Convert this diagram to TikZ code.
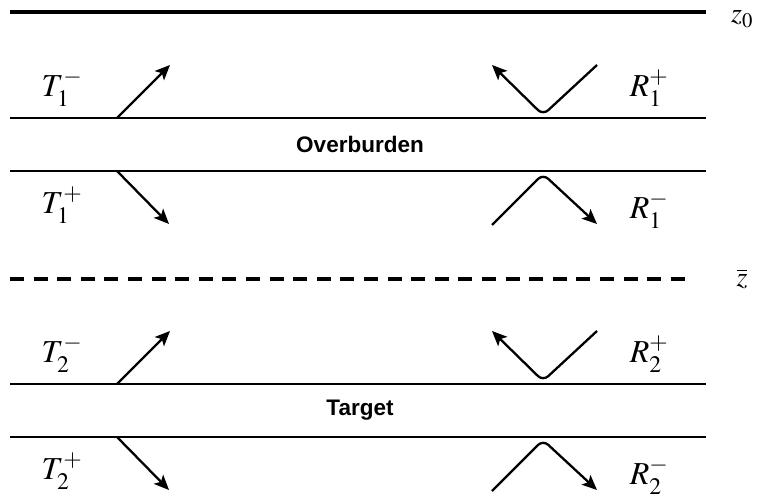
\documentclass[tikz,border=0pt]{standalone}
\usepackage{mathptmx}
\usepackage{fontspec}
\newfontfamily\labelsans{Liberation Sans}
\usetikzlibrary{arrows.meta}
\tikzset{
  layer/.style={line width=1.4pt},
  ray/.style={line width=2.3pt, -{Stealth[length=15pt,width=13pt,inset=3.5pt]}, rounded corners=7pt},
  mlabel/.style={font=\fontsize{32}{34}\selectfont, inner sep=0pt},
  zlabel/.style={font=\fontsize{28}{30}\selectfont, inner sep=0pt},
  title/.style={font=\labelsans\bfseries\fontsize{22.5}{26}\selectfont, inner sep=0pt}
}
\begin{document}
\begin{tikzpicture}[x=1pt,y=-1pt]
\useasboundingbox (0,0) rectangle (760,501);
% surface and interfaces
\draw[line width=4pt] (10,12) -- (706,12);
\node[zlabel] (z0) at (742,19) {$z_0$};
\draw[layer] (10,118) -- (706,118);
\draw[layer] (10,171) -- (706,171);
\draw[line width=4pt, dash pattern=on 14pt off 9.6pt] (10,279) -- (694,279);
\node[zlabel] (zbar) at (742,279) {$\overline{z}$};
\draw[layer] (10,384) -- (706,384);
\draw[layer] (10,437) -- (706,437);
% layer titles
\node[title] (ob) at (360,144) {Overburden};
\node[title] (tg) at (360,410) {Target};
% overburden rays
\node[mlabel] (t1m) at (62,88) {$T_1^-$};
\draw[ray] (117,118) -- (170,65);
\node[mlabel] (r1p) at (649,88) {$R_1^+$};
\draw[ray] (597,65) -- (543,115) -- (492,65);
\node[mlabel] (t1p) at (62,205) {$T_1^+$};
\draw[ray] (117,171) -- (169,224);
\node[mlabel] (r1m) at (649,210) {$R_1^-$};
\draw[ray] (492,225) -- (543,174) -- (597,224);
% target rays
\node[mlabel] (t2m) at (62,354) {$T_2^-$};
\draw[ray] (117,384) -- (170,331);
\node[mlabel] (r2p) at (649,354) {$R_2^+$};
\draw[ray] (597,331) -- (543,381) -- (492,331);
\node[mlabel] (t2p) at (62,471) {$T_2^+$};
\draw[ray] (117,437) -- (169,490);
\node[mlabel] (r2m) at (649,476) {$R_2^-$};
\draw[ray] (492,491) -- (543,440) -- (597,490);
\end{tikzpicture}
\end{document}
